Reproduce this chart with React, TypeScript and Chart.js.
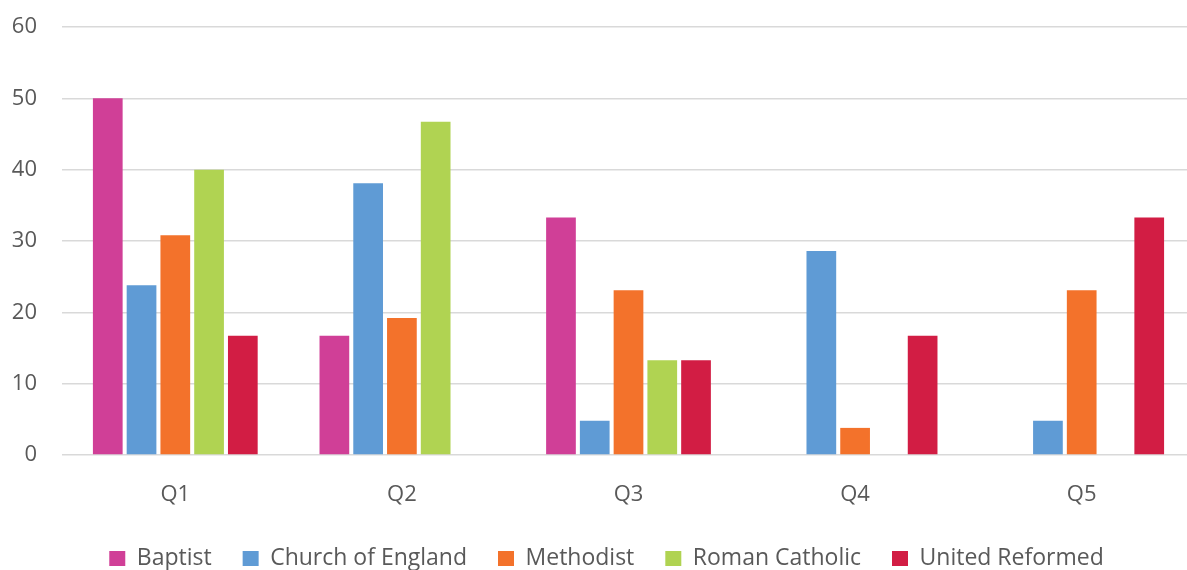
import React, { useEffect, useRef } from "react";
import { Chart, registerables } from "chart.js";

Chart.register(...registerables);

const categories = ["Q1", "Q2", "Q3", "Q4", "Q5"];
const baptist = [50, 16.7, 33.3, 0, 0];
const churchOfEngland = [23.8, 38.1, 4.8, 28.6, 4.8];
const methodist = [30.8, 19.2, 23.1, 3.8, 23.1];
const romanCatholic = [40, 46.7, 13.3, 0, 0];
const unitedReformed = [16.7, 0, 13.3, 16.7, 33.3];
const yTicks = [0, 10, 20, 30, 40, 50, 60];

const FONT = "'Open Sans', Lato, sans-serif";
const TEXT = "#595959";

// Nudge the legend row to the right so it sits under the plot area.
const legendOffset = {
  id: "legendOffset",
  afterLayout(chart: any) {
    if (chart.legend) {
      chart.legend.left += 9;
      chart.legend.right += 9;
    }
  },
};

export default function App() {
  const canvasRef = useRef<HTMLCanvasElement | null>(null);

  useEffect(() => {
    const canvas = canvasRef.current;
    if (!canvas) return;
    const series = [
      { label: "Baptist", data: baptist, color: "#D03F97" },
      { label: "Church of England", data: churchOfEngland, color: "#5F9BD5" },
      { label: "Methodist", data: methodist, color: "#F3722B" },
      { label: "Roman Catholic", data: romanCatholic, color: "#B0D352" },
      { label: "United Reformed", data: unitedReformed, color: "#D21D44" },
    ];
    const chart = new Chart(canvas, {
      type: "bar",
      data: {
        labels: categories,
        datasets: series.map((s) => ({
          label: s.label,
          data: s.data,
          backgroundColor: s.color,
          borderWidth: 0,
          categoryPercentage: 0.745,
          barPercentage: 0.88,
        })),
      },
      plugins: [legendOffset],
      options: {
        animation: false,
        responsive: false,
        maintainAspectRatio: false,
        layout: { padding: { top: 27, right: 1, left: 0, bottom: 0 } },
        plugins: {
          tooltip: { enabled: false },
          legend: {
            position: "bottom",
            labels: {
              color: TEXT,
              font: { family: FONT, size: 23 },
              boxWidth: 16,
              boxHeight: 15,
              padding: 31,
            },
          },
        },
        scales: {
          x: {
            grid: { display: false, drawTicks: false },
            border: { display: false },
            afterFit: (scale: any) => {
              scale.height = 61;
            },
            ticks: {
              color: TEXT,
              font: { family: FONT, size: 22 },
              padding: 27,
            },
          },
          y: {
            min: 0,
            max: 60,
            afterBuildTicks: (scale: any) => {
              scale.ticks = yTicks.map((v) => ({ value: v }));
            },
            afterFit: (scale: any) => {
              scale.width = 62;
              scale.paddingTop = 0;
              scale.paddingBottom = 0;
            },
            grid: { color: "#D9D9D9", lineWidth: 1.5, drawTicks: false },
            border: { display: false },
            ticks: {
              color: TEXT,
              font: { family: FONT, size: 22 },
              padding: 25,
            },
          },
        },
      },
    });
    return () => chart.destroy();
  }, []);

  return (
    <div style={{ position: "fixed", left: 0, top: 0, width: 1196, height: 580, background: "#fff" }}>
      <canvas ref={canvasRef} width={1196} height={580} />
    </div>
  );
}
